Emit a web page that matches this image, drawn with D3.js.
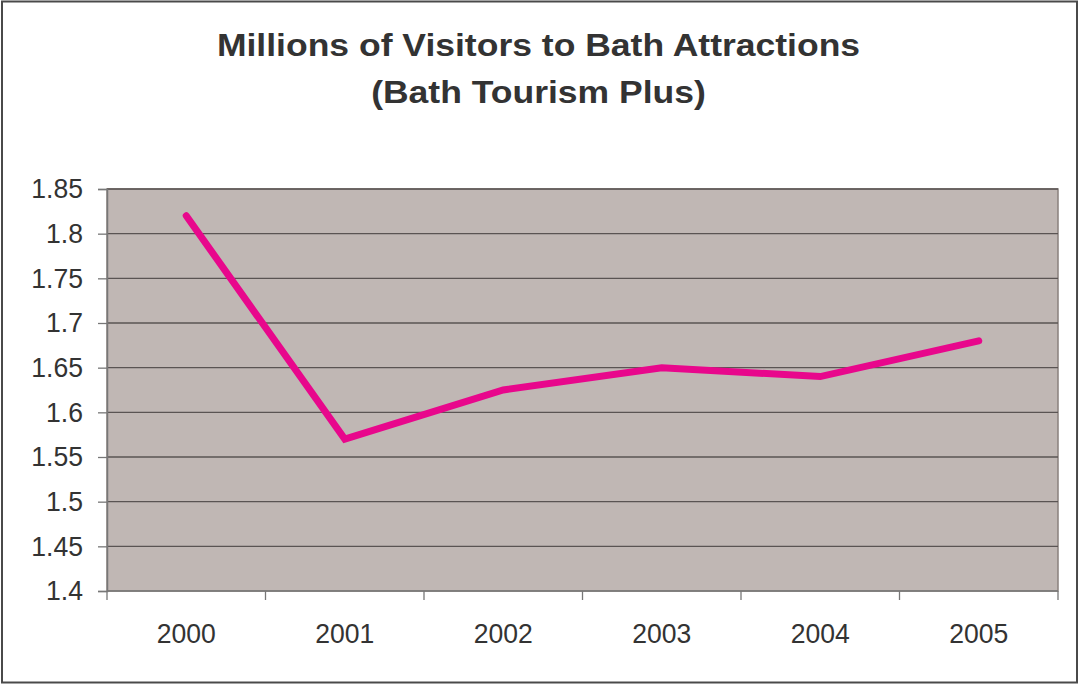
<!DOCTYPE html>
<html>
<head>
<meta charset="utf-8">
<script src="https://cdn.jsdelivr.net/npm/d3@7"></script>
<style>
  html, body { margin: 0; padding: 0; background: #fff; }
  svg { display: block; font-family: "Liberation Sans", Arial, sans-serif; }
</style>
</head>
<body>
<svg id="chart" width="1079" height="684"></svg>
<script>
// Visitor numbers (millions) per year
const years = ["2000", "2001", "2002", "2003", "2004", "2005"];
const visitors = [1.82, 1.57, 1.625, 1.65, 1.64, 1.68];
const yTicks = [1.4, 1.45, 1.5, 1.55, 1.6, 1.65, 1.7, 1.75, 1.8, 1.85];
const titleLines = ["Millions of Visitors to Bath Attractions", "(Bath Tourism Plus)"];

const svg = d3.select("#chart");
const W = 1079, H = 684;
const plot = { left: 107, right: 1058, top: 189, bottom: 591 };

// outer frame
svg.append("rect")
  .attr("x", 2).attr("y", 1.5)
  .attr("width", W - 4).attr("height", H - 3)
  .attr("fill", "#fff").attr("stroke", "#4a4a4a").attr("stroke-width", 2);

const x = d3.scaleBand().domain(years).range([plot.left, plot.right]);
const y = d3.scaleLinear().domain([1.4, 1.85]).range([plot.bottom, plot.top]);

// plot background
svg.append("rect")
  .attr("x", plot.left).attr("y", plot.top)
  .attr("width", plot.right - plot.left).attr("height", plot.bottom - plot.top)
  .attr("fill", "#c0b7b4").attr("stroke", "#8a807d").attr("stroke-width", 1.5);

// horizontal gridlines
svg.append("g").selectAll("line")
  .data(yTicks.filter(t => t > 1.4))
  .join("line")
  .attr("x1", plot.left).attr("x2", plot.right)
  .attr("y1", d => y(d)).attr("y2", d => y(d))
  .attr("stroke", "#5a5453").attr("stroke-width", 1.3);

// y axis
const yAxis = svg.append("g")
  .attr("transform", `translate(${plot.left},0)`)
  .call(d3.axisLeft(y).tickValues(yTicks).tickFormat(d => String(+d.toFixed(2))).tickSize(9).tickPadding(0));
yAxis.select(".domain").attr("stroke", "#777").attr("stroke-width", 1.5);
yAxis.selectAll(".tick line").attr("stroke", "#777").attr("stroke-width", 1.3);
yAxis.selectAll(".tick text")
  .attr("x", null)
  .attr("fill", "#333").attr("font-size", 28)
  .attr("font-family", "'Liberation Sans', Arial, sans-serif")
  .attr("transform", "translate(-24,0) scale(0.95,1)");

// x axis with tick marks at band boundaries
const xAxisG = svg.append("g").attr("transform", `translate(0,${plot.bottom})`);
xAxisG.append("line")
  .attr("x1", plot.left).attr("x2", plot.right)
  .attr("stroke", "#777").attr("stroke-width", 1.5);
const bounds = years.map(d => x(d)).concat([x(years[years.length - 1]) + x.bandwidth()]);
xAxisG.selectAll("line.tk").data(bounds).join("line")
  .attr("class", "tk")
  .attr("x1", d => d).attr("x2", d => d)
  .attr("y1", 0).attr("y2", 9)
  .attr("stroke", "#777").attr("stroke-width", 1.3);
xAxisG.selectAll("text").data(years).join("text")
  .attr("transform", d => `translate(${x(d) + x.bandwidth() / 2},52) scale(0.95,1)`)
  .attr("text-anchor", "middle")
  .attr("fill", "#333").attr("font-size", 28)
  .text(d => d);

// data line
const line = d3.line()
  .x((d, i) => x(years[i]) + x.bandwidth() / 2)
  .y(d => y(d));
svg.append("path")
  .datum(visitors)
  .attr("d", line)
  .attr("fill", "none")
  .attr("stroke", "#e8078c")
  .attr("stroke-width", 7)
  .attr("stroke-linejoin", "miter")
  .attr("stroke-linecap", "round");

// title
svg.append("g").selectAll("text")
  .data(titleLines)
  .join("text")
  .attr("transform", (d, i) => `translate(${W / 2 - 1},${56 + i * 47}) scale(1.11,1)`)
  .attr("text-anchor", "middle")
  .attr("font-weight", "bold")
  .attr("font-size", 32)
  .attr("fill", "#333")
  .text(d => d);
</script>
</body>
</html>
